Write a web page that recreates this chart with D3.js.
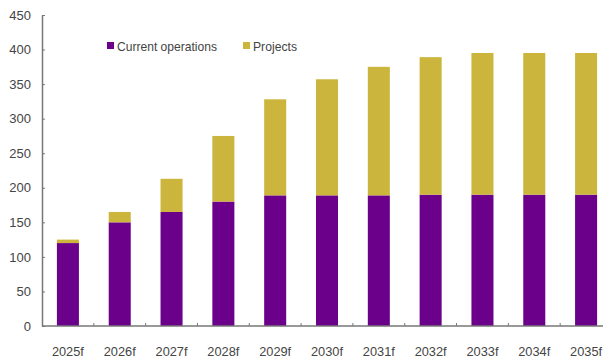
<!DOCTYPE html>
<html>
<head>
<meta charset="utf-8">
<script src="https://cdn.jsdelivr.net/npm/d3@7"></script>
<style>
  body { margin: 0; background: #fff; }
  text { font-family: "Liberation Sans Narrow", "Arial Narrow", "Liberation Sans", sans-serif; }
</style>
</head>
<body>
<svg width="603" height="361"></svg>
<script>
// Data
const years = ["2025f", "2026f", "2027f", "2028f", "2029f", "2030f", "2031f", "2032f", "2033f", "2034f", "2035f"];
const currentOps = [120, 150, 165, 180, 189, 189, 189, 190, 190, 190, 190];
const projects = [5, 15, 48, 95, 139, 168, 186, 199, 205, 205, 205];
const seriesNames = ["Current operations", "Projects"];
const colors = ["#6b008b", "#ccb53c"];
const yTicks = [0, 50, 100, 150, 200, 250, 300, 350, 400, 450];

const svg = d3.select("svg");

// plot area (runs a bit past the right edge, like the source)
const plotLeft = 42, plotRight = 612, plotTop = 15, plotBottom = 326;

const rows = years.map((y, i) => ({ year: y, current: currentOps[i], projects: projects[i] }));
const stack = d3.stack().keys(["current", "projects"])(rows);

const x = d3.scaleBand()
    .domain(years)
    .range([plotLeft, plotRight])
    .paddingInner(0.575)
    .paddingOuter(0.2875);

const y = d3.scaleLinear()
    .domain([0, 450])
    .range([plotBottom, plotTop]);

// Bars
svg.append("g")
  .selectAll("g")
  .data(stack)
  .join("g")
    .attr("fill", (d, i) => colors[i])
  .selectAll("rect")
  .data(d => d)
  .join("rect")
    .attr("x", d => x(d.data.year))
    .attr("y", d => y(d[1]))
    .attr("width", x.bandwidth())
    .attr("height", d => y(d[0]) - y(d[1]));

// Y axis
const yAxis = svg.append("g")
    .attr("transform", `translate(${plotLeft},0)`)
    .call(d3.axisLeft(y).tickValues(yTicks).tickSizeInner(-3).tickSizeOuter(0).tickPadding(11));
yAxis.select(".domain").attr("stroke", "#777").attr("stroke-width", 1.5);
yAxis.selectAll(".tick line").attr("stroke", "#777");
yAxis.selectAll("text").attr("fill", "#444").attr("font-size", 13);

// X axis: tick marks sit between categories
const xAxis = svg.append("g")
    .attr("transform", `translate(0,${plotBottom})`);
xAxis.append("line")
    .attr("x1", plotLeft).attr("x2", plotRight)
    .attr("stroke", "#777").attr("stroke-width", 1.5);
xAxis.selectAll(".sep")
  .data(years.slice(1))
  .join("line")
    .attr("class", "sep")
    .attr("x1", d => x(d) - x.step() * x.paddingInner() / 2)
    .attr("x2", d => x(d) - x.step() * x.paddingInner() / 2)
    .attr("y1", 0).attr("y2", -3)
    .attr("stroke", "#777");
xAxis.selectAll(".lbl")
  .data(years)
  .join("text")
    .attr("class", "lbl")
    .attr("x", d => x(d) + x.bandwidth() / 2)
    .attr("y", 30)
    .attr("text-anchor", "middle")
    .attr("fill", "#444")
    .attr("font-size", 13)
    .attr("textLength", 32)
    .attr("lengthAdjust", "spacingAndGlyphs")
    .text(d => d);

// Legend
const legendX = [107, 243];
const legendW = [100, 44];
const legend = svg.append("g").selectAll("g")
  .data(seriesNames)
  .join("g")
    .attr("transform", (d, i) => `translate(${legendX[i]},42)`);
legend.append("rect")
    .attr("width", 7).attr("height", 7)
    .attr("fill", (d, i) => colors[i]);
legend.append("text")
    .attr("x", 10).attr("y", 9)
    .attr("fill", "#444")
    .attr("font-size", 13)
    .attr("textLength", (d, i) => legendW[i])
    .attr("lengthAdjust", "spacingAndGlyphs")
    .text(d => d);
</script>
</body>
</html>
